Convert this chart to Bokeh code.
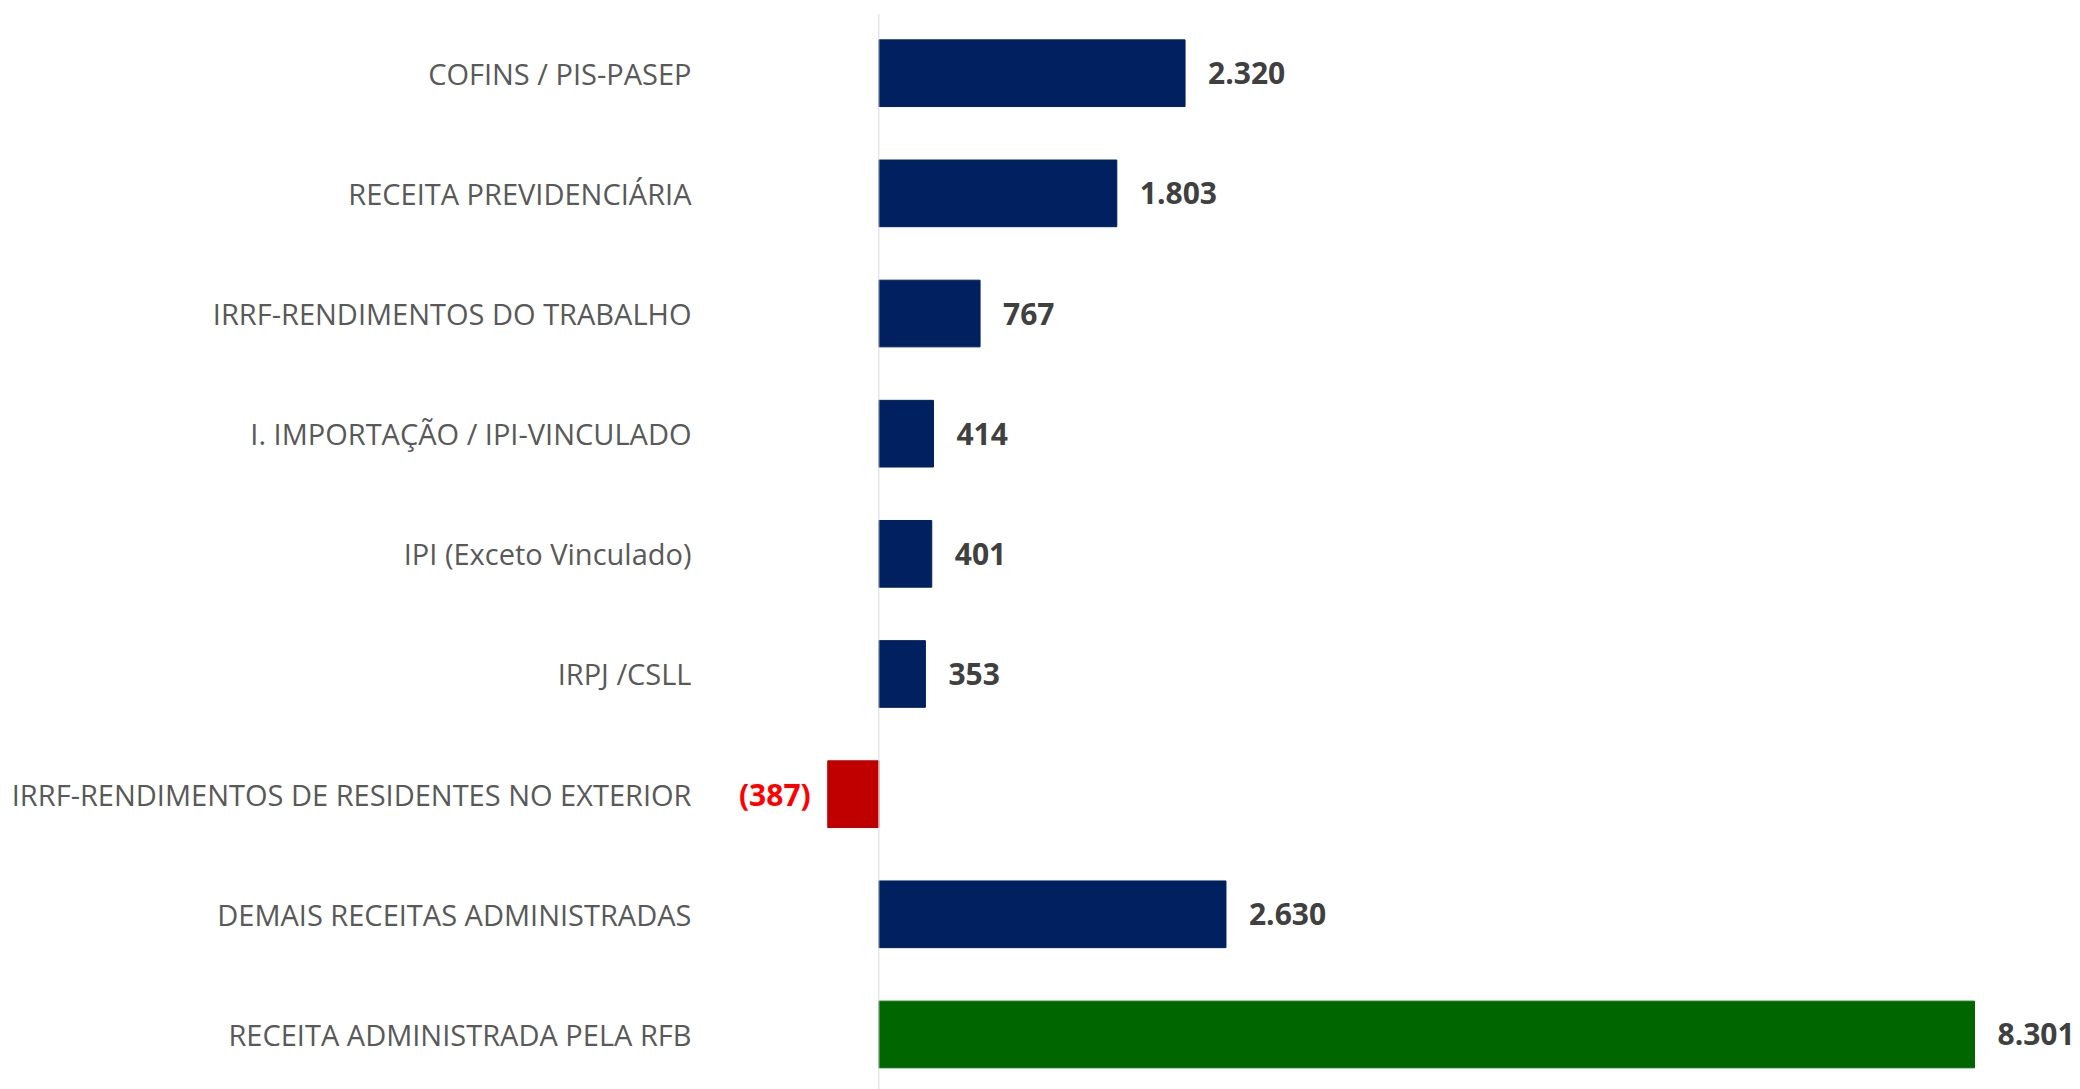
from bokeh.plotting import figure
from bokeh.models import ColumnDataSource, Range1d, FixedTicker, Span
from bokeh.core.properties import value
from bokeh.embed import file_html
from bokeh.resources import INLINE

categories = [
    "COFINS / PIS-PASEP",
    "RECEITA PREVIDENCIÁRIA",
    "IRRF-RENDIMENTOS DO TRABALHO",
    "I. IMPORTAÇÃO / IPI-VINCULADO",
    "IPI (Exceto Vinculado)",
    "IRPJ /CSLL",
    "IRRF-RENDIMENTOS DE RESIDENTES NO EXTERIOR",
    "DEMAIS RECEITAS ADMINISTRADAS",
    "RECEITA ADMINISTRADA PELA RFB",
]
values = [2320, 1803, 767, 414, 401, 353, -387, 2630, 8301]
bar_colors = ["#002060", "#002060", "#002060", "#002060", "#002060",
              "#002060", "#C00000", "#002060", "#006600"]


def fmt(v):
    s = f"{abs(v):,}".replace(",", ".")
    return f"({s})" if v < 0 else s


pos = list(range(len(categories)))
src = ColumnDataSource(dict(y=pos, v=values, color=bar_colors))
pos_src = ColumnDataSource(dict(
    y=[p_ for p_, v in zip(pos, values) if v >= 0],
    v=[v for v in values if v >= 0],
    label=[fmt(v) for v in values if v >= 0],
))
neg_src = ColumnDataSource(dict(
    y=[p_ for p_, v in zip(pos, values) if v < 0],
    v=[v for v in values if v < 0],
    label=[fmt(v) for v in values if v < 0],
))

p = figure(width=2080, height=1089, output_backend="svg", toolbar_location=None,
           x_range=Range1d(-1351, 9104), y_range=Range1d(8.458, -0.497),
           min_border_left=700, min_border_right=0, min_border_top=13,
           min_border_bottom=0, outline_line_color=None)
p.background_fill_color = "white"
p.border_fill_color = "white"

p.hbar(y="y", right="v", left=0, height=0.555, fill_color="color",
       line_color="color", source=src)

p.add_layout(Span(location=0, dimension="height", line_color="#D9D9D9",
                  line_width=1))

p.text(x="v", y="y", text="label", source=pos_src, x_offset=23,
       text_align="left", text_baseline="middle",
       text_font=value("Open Sans"), text_font_style="bold",
       text_font_size="30px", text_color="#404040")
p.text(x="v", y="y", text="label", source=neg_src, x_offset=-17,
       text_align="right", text_baseline="middle",
       text_font=value("Open Sans"), text_font_style="bold",
       text_font_size="30px", text_color="#FF0000")

p.xaxis.visible = False
p.xgrid.visible = False
p.ygrid.visible = False
ya = p.yaxis[0]
ya.ticker = FixedTicker(ticks=pos)
ya.major_label_overrides = {i: c for i, c in enumerate(categories)}
ya.axis_line_color = None
ya.major_tick_line_color = None
ya.minor_tick_line_color = None
ya.major_tick_out = 0
ya.major_label_standoff = 9
ya.major_label_text_font = "Open Sans"
ya.major_label_text_font_size = "29px"
ya.major_label_text_color = "#595959"

open("out.html", "w").write(file_html(p, INLINE))
